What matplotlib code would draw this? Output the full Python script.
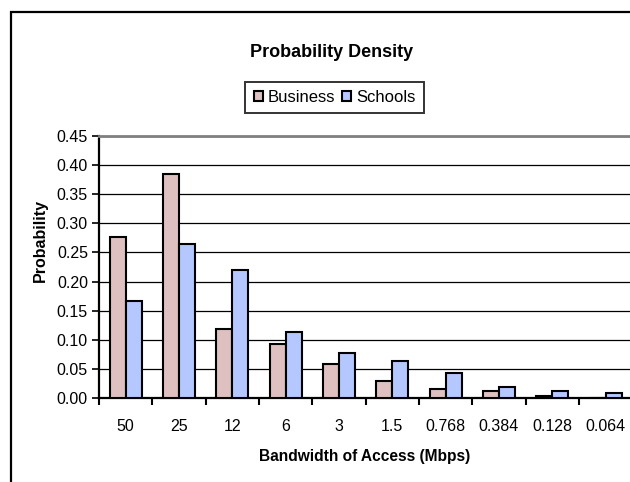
import matplotlib
matplotlib.use("Agg")
import matplotlib.pyplot as plt
from matplotlib.patches import Rectangle
import numpy as np

plt.rcParams['font.family'] = ['Liberation Sans', 'DejaVu Sans']

# Bandwidth categories (Mbps) and probability per category
bandwidths = ["50", "25", "12", "6", "3", "1.5", "0.768", "0.384", "0.128", "0.064"]
business = [0.277, 0.384, 0.119, 0.092, 0.058, 0.030, 0.016, 0.012, 0.004, 0.0]
schools = [0.167, 0.264, 0.219, 0.113, 0.078, 0.064, 0.043, 0.019, 0.012, 0.009]
y_ticks = [0.00, 0.05, 0.10, 0.15, 0.20, 0.25, 0.30, 0.35, 0.40, 0.45]

W, H = 630, 482
fig = plt.figure(figsize=(W / 100, H / 100), dpi=100)
fig.patch.set_facecolor("white")

def px(x0, y0, x1, y1):
    # pixel box (top-left origin) -> figure fraction rect
    return [x0 / W, 1 - y1 / H, (x1 - x0) / W, (y1 - y0) / H]

# chart-area frame (extends past right/bottom edges)
fig.patches.append(Rectangle((11 / W, -0.2), 1.2, 1 - 12 / H + 0.2,
                             transform=fig.transFigure, fill=False,
                             edgecolor="black", linewidth=1.6, zorder=0))

ax = fig.add_axes(px(99, 136, 632.3, 398))
x = np.arange(len(bandwidths))
bw = 0.3
ax.bar(x - bw, business, width=bw, align="edge", color="#DFC0C0",
       edgecolor="black", linewidth=1.5, zorder=3, label="Business")
ax.bar(x, schools, width=bw, align="edge", color="#B4C7FF",
       edgecolor="black", linewidth=1.5, zorder=3, label="Schools")

ax.set_xlim(-0.5, len(bandwidths) - 0.5)
ax.set_ylim(0, 0.45)
ax.set_yticks(y_ticks)
ax.set_yticklabels([f"{v:.2f}" for v in y_ticks])
ax.yaxis.grid(True, color="black", linewidth=0.9, zorder=1)
ax.set_axisbelow(True)

ax.set_xticks(x)
ax.set_xticklabels(bandwidths)
ax.set_xticks(np.arange(len(bandwidths) + 1) - 0.5, minor=True)
ax.tick_params(axis="x", which="major", length=0, pad=15, labelsize=11.5)
ax.tick_params(axis="x", which="minor", length=5, width=1.5, direction="out")
ax.tick_params(axis="y", length=5, width=1.2, direction="out", pad=3, labelsize=11.5)

for side in ("left", "bottom"):
    ax.spines[side].set_linewidth(1.6)
    ax.spines[side].set_color("black")
ax.spines["top"].set_color("#808080")
ax.spines["top"].set_linewidth(2.0)
ax.spines["right"].set_visible(False)

fig.text(332 / W, 1 - 52 / H, "Probability Density", ha="center", va="center",
         fontsize=13, fontweight="bold")
fig.text(365 / W, 1 - 457 / H, "Bandwidth of Access (Mbps)", ha="center",
         va="center", fontsize=11.2, fontweight="bold")
fig.text(40 / W, 1 - 240 / H, "Probability", ha="center", va="center",
         rotation=90, fontsize=11.5, fontweight="bold")

leg = fig.legend(loc="center", bbox_to_anchor=(334.5 / W, 1 - 97.5 / H), ncol=2,
                 fontsize=12, frameon=True, fancybox=False, handlelength=0.55,
                 handleheight=0.55, handletextpad=0.3, columnspacing=0.4,
                 borderpad=0.5, borderaxespad=0)
leg.get_frame().set_edgecolor("black")
leg.get_frame().set_linewidth(1.4)

fig.savefig("out.png", dpi=100)
